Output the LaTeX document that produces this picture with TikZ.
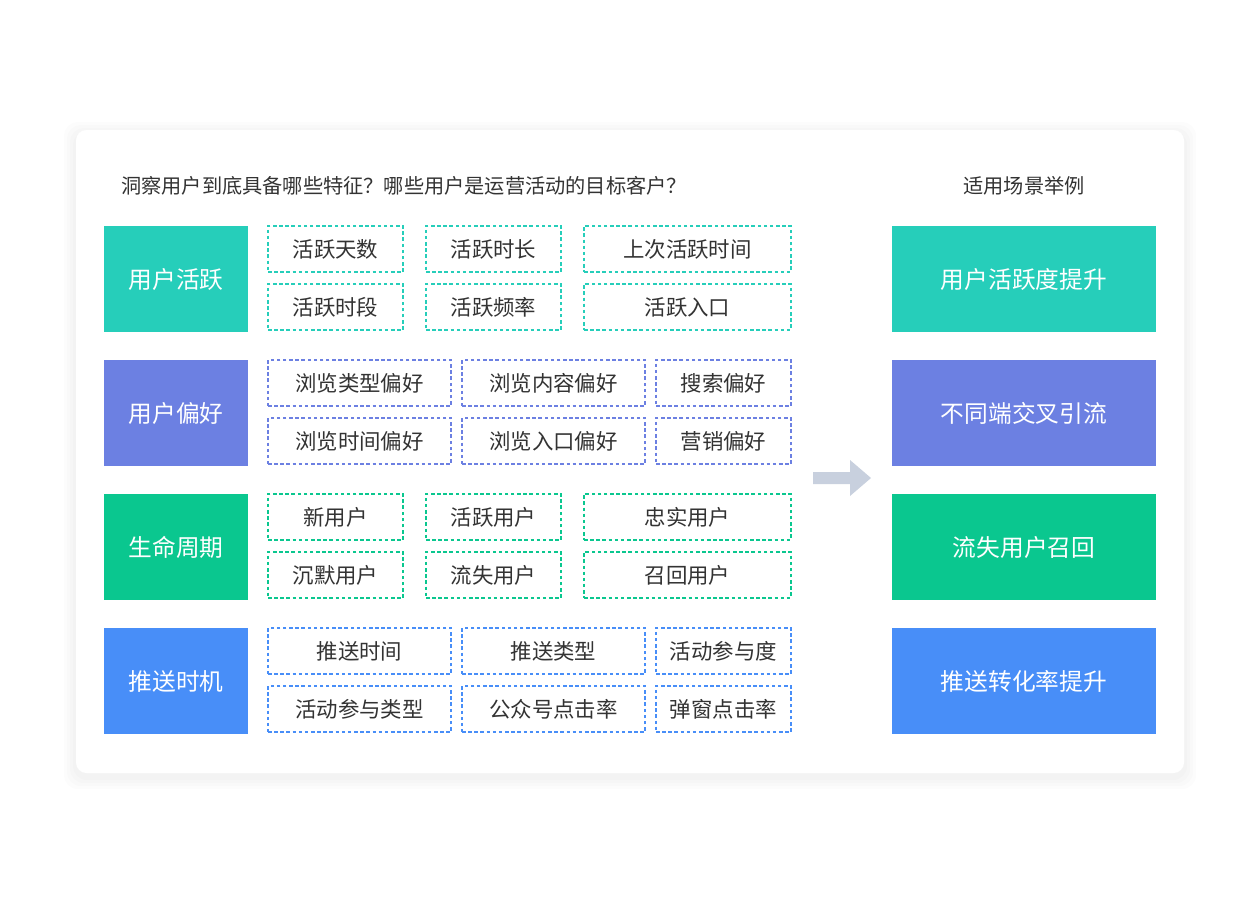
\documentclass[tikz,border=0pt]{standalone}
\usepackage{fontspec}
\setmainfont{Noto Sans CJK SC}
\definecolor{ux_teal}{RGB}{38, 206, 186}
\definecolor{ux_purple}{RGB}{108, 128, 226}
\definecolor{ux_green}{RGB}{10, 199, 143}
\definecolor{ux_blue}{RGB}{72, 142, 248}
\definecolor{ux_text}{RGB}{51, 51, 51}
\definecolor{ux_arrow}{RGB}{200, 208, 222}
\usetikzlibrary{arrows.meta, positioning, calc}

\begin{document}
\begin{tikzpicture}[x=0.02cm, y=-0.02cm,
    cat/.style={minimum width=144*0.02cm, minimum height=106*0.02cm,
                text=white, font=\fontsize{13.5}{15}\selectfont, inner sep=0pt},
    scene/.style={minimum width=264*0.02cm, minimum height=106*0.02cm,
                  text=white, font=\fontsize{13.5}{15}\selectfont, inner sep=0pt},
    tag/.style={draw, dashed, line width=0.7pt, dash pattern=on 2pt off 1.5pt,
                minimum height=46*0.02cm, text=ux_text, inner sep=0pt,
                font=\fontsize{12.2}{14}\selectfont},
  ]
  \useasboundingbox (0,0) rectangle (1260,904);
  % card with soft shadow
  \foreach \s in {12,9,6,3}
    \fill[black, opacity=0.012, rounded corners=8] (76-\s,130-\s+4) rectangle (1184+\s,773+\s+4);
  \fill[white, rounded corners=6] (76,130) rectangle (1184,773);

  \node[anchor=west, text=ux_text, font=\fontsize{11.5}{13}\selectfont] (title) at (115,186)
    {洞察用户到底具备哪些特征？哪些用户是运营活动的目标客户？};
  \node[text=ux_text, font=\fontsize{11.5}{13}\selectfont] (stitle) at (1024,186) {适用场景举例};

  % categories
  \node[cat, fill=ux_teal]   (c1) at (176,279) {用户活跃};
  \node[cat, fill=ux_purple] (c2) at (176,413) {用户偏好};
  \node[cat, fill=ux_green]  (c3) at (176,547) {生命周期};
  \node[cat, fill=ux_blue]   (c4) at (176,681) {推送时机};

  % scenes
  \node[scene, fill=ux_teal]   (s1) at (1024,279) {用户活跃度提升};
  \node[scene, fill=ux_purple] (s2) at (1024,413) {不同端交叉引流};
  \node[scene, fill=ux_green]  (s3) at (1024,547) {流失用户召回};
  \node[scene, fill=ux_blue]   (s4) at (1024,681) {推送转化率提升};

  % tags, narrow grid
  \foreach \y/\col/\a/\b/\c in {249/ux_teal/活跃天数/活跃时长/上次活跃时间,
                                307/ux_teal/活跃时段/活跃频率/活跃入口,
                                517/ux_green/新用户/活跃用户/忠实用户,
                                575/ux_green/沉默用户/流失用户/召回用户} {
    \node[tag, draw=\col, minimum width=135*0.02cm] (ta) at (335.5,\y) {\a};
    \node[tag, draw=\col, minimum width=135*0.02cm] (tb) at (493.5,\y) {\b};
    \node[tag, draw=\col, minimum width=207*0.02cm] (tc) at (687.5,\y) {\c};
  }
  % tags, wide grid
  \foreach \y/\col/\a/\b/\c in {383/ux_purple/浏览类型偏好/浏览内容偏好/搜索偏好,
                                441/ux_purple/浏览时间偏好/浏览入口偏好/营销偏好,
                                651/ux_blue/推送时间/推送类型/活动参与度,
                                709/ux_blue/活动参与类型/公众号点击率/弹窗点击率} {
    \node[tag, draw=\col, minimum width=183*0.02cm] (ta) at (359.5,\y) {\a};
    \node[tag, draw=\col, minimum width=183*0.02cm] (tb) at (553.5,\y) {\b};
    \node[tag, draw=\col, minimum width=135*0.02cm] (tc) at (723.5,\y) {\c};
  }

  % arrow
  \fill[ux_arrow] (813,472) -- (850,472) -- (850,460) -- (871,478)
    -- (850,496) -- (850,484) -- (813,484) -- cycle;
\end{tikzpicture}
\end{document}
